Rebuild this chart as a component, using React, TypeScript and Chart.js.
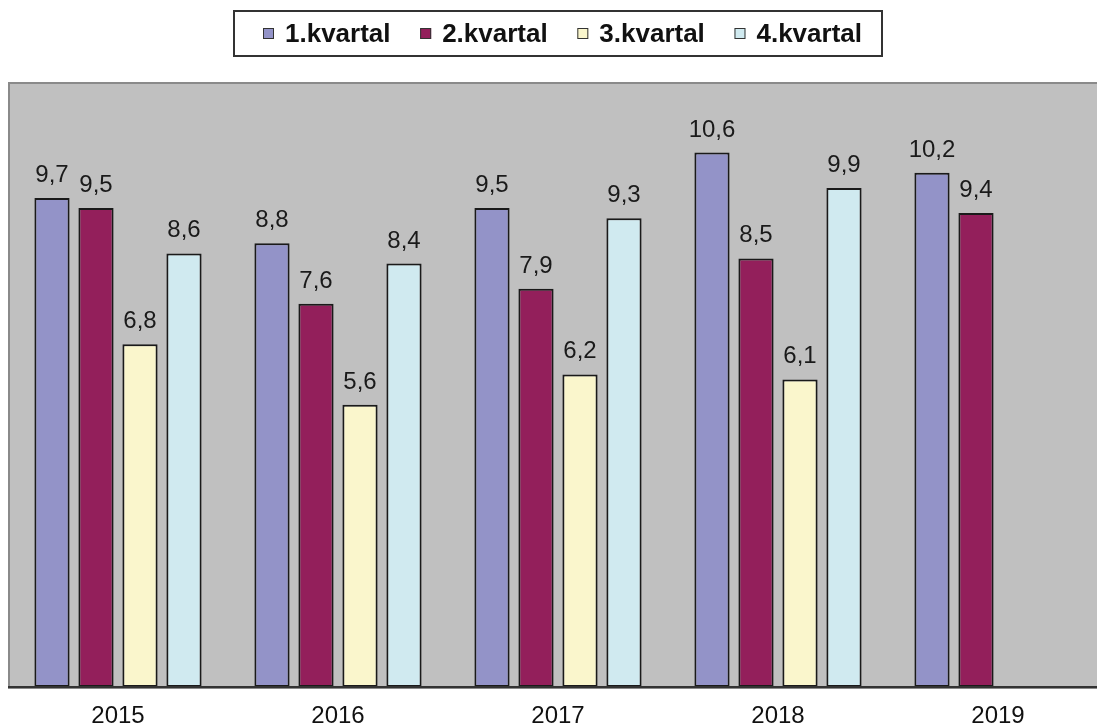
import React, { useEffect, useRef } from "react";
import { Chart, registerables } from "chart.js";

Chart.register(...registerables);

const years = ["2015", "2016", "2017", "2018", "2019"];
const seriesNames = ["1.kvartal", "2.kvartal", "3.kvartal", "4.kvartal"];
const q1 = [9.7, 8.8, 9.5, 10.6, 10.2];
const q2 = [9.5, 7.6, 7.9, 8.5, 9.4];
const q3 = [6.8, 5.6, 6.2, 6.1, null];
const q4 = [8.6, 8.4, 9.3, 9.9, null];
const seriesValues = [q1, q2, q3, q4];
const seriesColors = ["#9393c8", "#931f5b", "#faf6cc", "#d0eaf0"];

const FONT = '"Liberation Sans", Arial, sans-serif';

const decorPlugin = {
  id: "decor",
  beforeDraw(chart: any) {
    const { ctx, chartArea } = chart;
    ctx.save();
    ctx.fillStyle = "#c0c0c0";
    ctx.fillRect(chartArea.left, chartArea.top, chartArea.right - chartArea.left, chartArea.bottom - chartArea.top);
    ctx.strokeStyle = "#8a8a8a";
    ctx.lineWidth = 2;
    ctx.strokeRect(chartArea.left + 1, chartArea.top + 1, chartArea.right - chartArea.left, chartArea.bottom - chartArea.top);
    ctx.restore();
  },
  afterDatasetsDraw(chart: any) {
    const { ctx, chartArea } = chart;
    ctx.save();
    // axis line
    ctx.strokeStyle = "#333333";
    ctx.lineWidth = 2;
    ctx.beginPath();
    ctx.moveTo(chartArea.left, chartArea.bottom);
    ctx.lineTo(chartArea.right, chartArea.bottom);
    ctx.stroke();

    // data labels
    ctx.fillStyle = "#1a1a1a";
    ctx.font = `24px ${FONT}`;
    ctx.textAlign = "center";
    ctx.textBaseline = "alphabetic";
    chart.data.datasets.forEach((ds: any, di: number) => {
      const meta = chart.getDatasetMeta(di);
      meta.data.forEach((bar: any, i: number) => {
        const v = ds.data[i];
        if (v === null || v === undefined) return;
        ctx.fillText(String(v).replace(".", ","), bar.x, bar.y - 16);
      });
    });

    // legend
    ctx.font = `bold 26px ${FONT}`;
    ctx.textAlign = "left";
    const names = chart.data.datasets.map((d: any) => d.label);
    const widths = names.map((n: string) => ctx.measureText(n).width);
    const firstSq = 255;
    const lastEnd = 854;
    const sq = 11;
    const textGap = 22;
    const total = widths.reduce((a: number, b: number) => a + b, 0) + names.length * textGap;
    const gap = (lastEnd - firstSq - total) / (names.length - 1);
    ctx.fillStyle = "#ffffff";
    ctx.fillRect(225, 2, 650, 47);
    ctx.strokeStyle = "#333333";
    ctx.lineWidth = 2;
    ctx.strokeRect(226, 3, 648, 45);
    let x = firstSq;
    names.forEach((n: string, i: number) => {
      ctx.fillStyle = chart.data.datasets[i].backgroundColor;
      ctx.fillRect(x, 20, sq, sq);
      ctx.strokeStyle = "#333333";
      ctx.lineWidth = 1;
      ctx.strokeRect(x + 0.5, 20.5, sq - 1, sq - 1);
      ctx.fillStyle = "#111111";
      ctx.fillText(n, x + textGap, 34);
      x += textGap + widths[i] + gap;
    });
    ctx.restore();
  },
};

export default function App() {
  const ref = useRef<HTMLCanvasElement | null>(null);
  useEffect(() => {
    document.body.style.overflow = "hidden";
    if (!ref.current) return;
    const chart = new Chart(ref.current, {
      type: "bar",
      data: {
        labels: years,
        datasets: seriesNames.map((name, i) => ({
          label: name,
          data: seriesValues[i],
          backgroundColor: seriesColors[i],
          borderColor: "#1a1a1a",
          borderWidth: 2,
          borderSkipped: false,
          categoryPercentage: 0.8,
          barPercentage: 0.8,
        })),
      },
      options: {
        animation: false,
        responsive: true,
        maintainAspectRatio: false,
        layout: { padding: { top: 74, left: 0, right: 0, bottom: 0 } },
        plugins: {
          legend: { display: false },
          tooltip: { enabled: false },
        },
        scales: {
          x: {
            grid: { display: false, drawTicks: false },
            border: { display: false },
            ticks: {
              font: { family: FONT, size: 24 },
              color: "#111111",
              padding: 15,
              maxRotation: 0,
              autoSkip: false,
            },
            afterFit: (s: any) => {
              s.height = 39;
            },
          },
          y: {
            display: false,
            min: 0,
            max: 12,
          },
        },
      },
      plugins: [decorPlugin],
    });
    return () => chart.destroy();
  }, []);
  return (
    <div style={{ position: "absolute", left: 8, top: 8, width: 1089, height: 718, overflow: "hidden" }}>
      <div style={{ position: "relative", width: 1100, height: 718 }}>
        <canvas ref={ref} />
      </div>
    </div>
  );
}
